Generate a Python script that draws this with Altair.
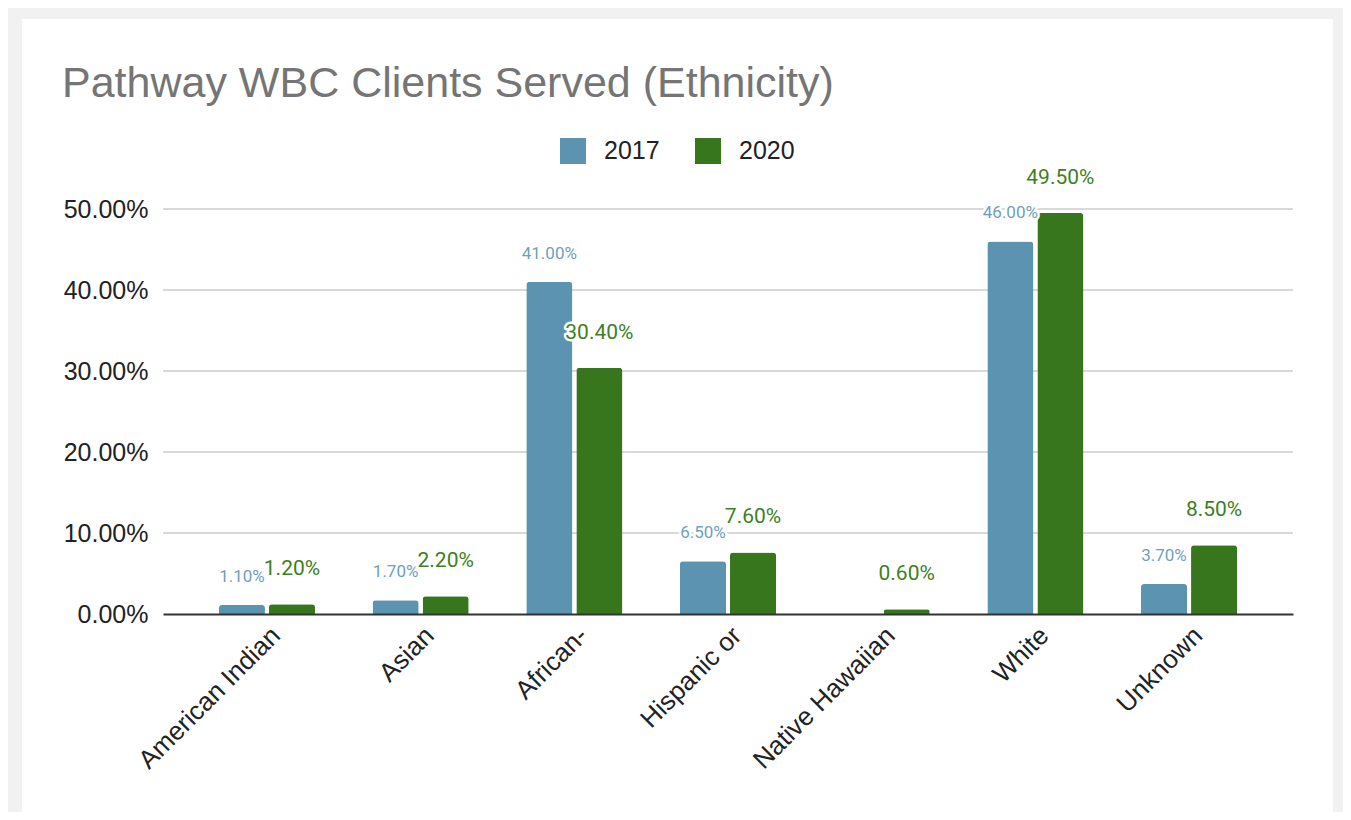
import altair as alt
import pandas as pd

categories = ["American Indian", "Asian", "African-", "Hispanic or",
              "Native Hawaiian", "White", "Unknown"]
v2017 = [0.011, 0.017, 0.410, 0.065, None, 0.460, 0.037]
v2020 = [0.012, 0.022, 0.304, 0.076, 0.006, 0.495, 0.085]
series = ["2017", "2020"]
y_ticks = [0.0, 0.1, 0.2, 0.3, 0.4, 0.5]
grid_ticks = [0.1, 0.2, 0.3, 0.4, 0.5]

rows = []
for c, a, b in zip(categories, v2017, v2020):
    rows.append({"cat": c, "series": "2017", "val": a})
    rows.append({"cat": c, "series": "2020", "val": b})
df = pd.DataFrame(rows)
grid_df = pd.DataFrame({"tick": grid_ticks})

W, H = 1130, 405
BLUE, GREEN = "#5b93b1", "#38761d"

x_axis = alt.Axis(title=None, zindex=1, domain=True, domainColor="#333333", domainWidth=2,
                  ticks=False, grid=False, labelAngle=-45, labelAlign="right",
                  labelBaseline="top", labelPadding=8, labelLimit=500,
                  labelFont="Liberation Sans", labelFontSize=26, labelColor="#222222")
y_axis = alt.Axis(title=None, zindex=1, domain=False, ticks=False, grid=False,
                  values=y_ticks, format=".2%", labelPadding=15,
                  labelFont="Liberation Sans", labelFontSize=25, labelColor="#222222")

x_enc = alt.X("cat:N", sort=categories,
              scale=alt.Scale(paddingInner=0.375, paddingOuter=0.364), axis=x_axis)
xo_enc = alt.XOffset("series:N", scale=alt.Scale(domain=series, paddingInner=0.08, paddingOuter=0))
y_scale = alt.Scale(domain=[0, 0.5], nice=False)
y_enc = alt.Y("val:Q", scale=y_scale, axis=y_axis)

card = alt.Chart(pd.DataFrame({"k": [0]})).mark_rect(color="white").encode(
    x=alt.value(-141), x2=alt.value(1170), y=alt.value(-190), y2=alt.value(603)
)

grid = alt.Chart(grid_df).mark_rule(color="#cccccc", strokeWidth=1.3).encode(
    x=alt.value(0), x2=alt.value(W),
    y=alt.Y("tick:Q", scale=y_scale, axis=y_axis)
)

bars = alt.Chart(df).mark_bar(cornerRadiusTopLeft=3, cornerRadiusTopRight=3).encode(
    x=x_enc, xOffset=xo_enc, y=y_enc,
    color=alt.Color("series:N", scale=alt.Scale(domain=series, range=[BLUE, GREEN]),
                    legend=alt.Legend(orient="none", legendX=397, legendY=-71,
                                      direction="horizontal", title=None,
                                      symbolType="square", symbolSize=676,
                                      symbolStrokeWidth=0, labelFontSize=25,
                                      labelColor="#222222", labelFont="Liberation Sans",
                                      columnPadding=35, labelOffset=18, padding=0))
)

def labels(ser, color, size, dy):
    base = alt.Chart(df).transform_filter(
        (alt.datum.series == ser) & alt.expr.isValid(alt.datum.val)
    )
    enc = dict(x=x_enc, xOffset=xo_enc, y=y_enc, text=alt.Text("val:Q", format=".2%"))
    halo = base.mark_text(font="Roboto", fontSize=size, dy=dy, baseline="middle",
                          color="white", stroke="white", strokeWidth=5,
                          strokeJoin="round").encode(**enc)
    txt = base.mark_text(font="Roboto", fontSize=size, dy=dy, baseline="middle",
                         color=color).encode(**enc)
    return halo + txt

chart = alt.layer(
    card, grid, bars,
    labels("2017", "#6f9fbd", 17, -28),
    labels("2020", "#3d7f22", 21, -35),
).properties(
    width=W, height=H,
    autosize=alt.AutoSizeParams(type="none"),
    padding={"left": 155, "top": 201, "right": 50, "bottom": 198},
    background="#f1f1f1",
    title=alt.TitleParams(text="Pathway WBC Clients Served (Ethnicity)",
                          anchor="start", frame="group", dx=-101, offset=-121,
                          baseline="alphabetic", fontSize=43, font="Liberation Sans",
                          fontWeight="normal", color="#757575"),
).configure_view(stroke=None)

chart.save("out.html", embed_options={"renderer": "svg", "actions": False})
